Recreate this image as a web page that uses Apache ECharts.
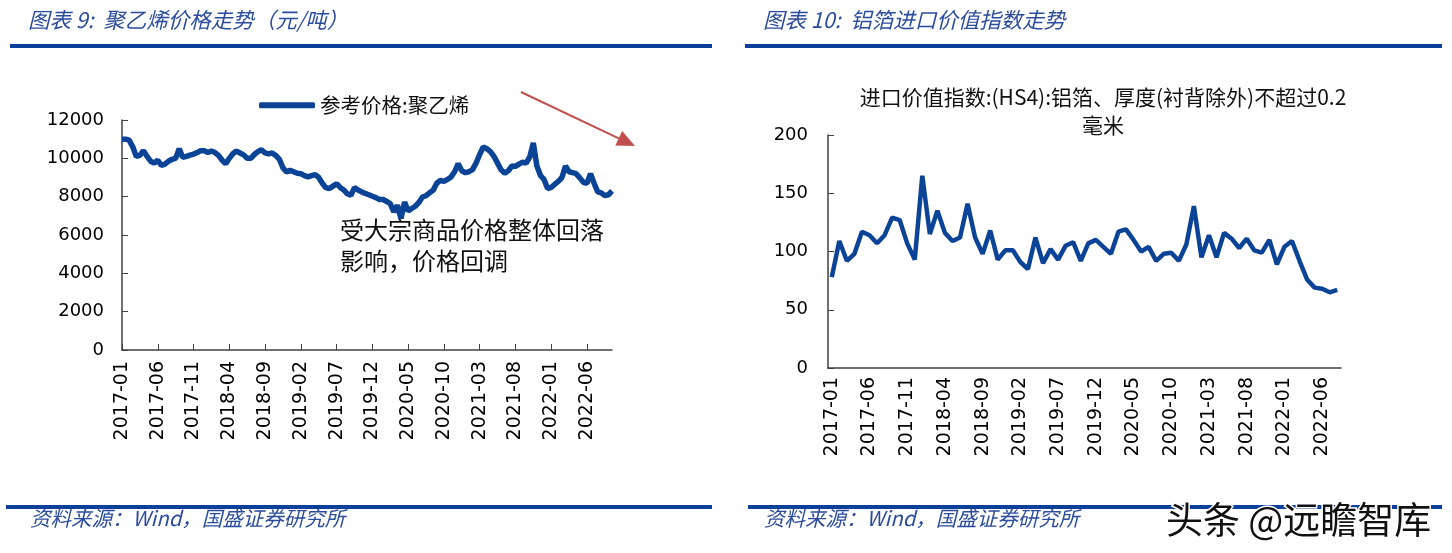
<!DOCTYPE html>
<html>
<head>
<meta charset="utf-8">
<script src="https://cdn.jsdelivr.net/npm/echarts@6/dist/echarts.min.js"></script>
<style>
html,body{margin:0;padding:0;background:#fff;}
#c{width:1452px;height:553px;}
</style>
</head>
<body>
<div id="c"></div>
<script>
// ---- Left chart: 聚乙烯 price (semi-monthly samples, 2017-01 .. 2022-09) ----
const peStartYear = 2017;
const peValues = [
  11000, 11000, 10950, 10600, 10100, 10150, 10400, 10100, 9850, 9750,
  9900, 9630, 9700, 9850, 9950, 10000, 10500, 10050, 10100, 10170,
  10220, 10300, 10400, 10400, 10300, 10380, 10300, 10150, 9900, 9720,
  10000, 10240, 10380, 10280, 10180, 10000, 10000, 10200, 10350, 10450,
  10280, 10230, 10280, 10150, 9950, 9500, 9290, 9380, 9300, 9220,
  9200, 9100, 9030, 9100, 9150, 9000, 8700, 8470, 8420, 8550,
  8680, 8480, 8350, 8150, 8070, 8470, 8350, 8250, 8170, 8100,
  8020, 7950, 7850, 7850, 7750, 7640, 7200, 7550, 6860, 7720,
  7250, 7380, 7500, 7700, 7980, 8050, 8200, 8330, 8700, 8850,
  8800, 8900, 9030, 9300, 9720, 9350, 9250, 9300, 9410, 9750,
  10200, 10590, 10500, 10350, 10100, 9750, 9400, 9220, 9350, 9600,
  9580, 9700, 9800, 9750, 10070, 10800, 9600, 9100, 8900, 8420,
  8480, 8650, 8800, 9000, 9600, 9300, 9250, 9200, 8980, 8750,
  8700, 9200, 8700, 8250, 8200, 8050, 8100, 8300
];
const peDates = [];
for (let k = 0; k < peValues.length; k++) {
  const m = Math.floor(k / 2);
  const y = peStartYear + Math.floor(m / 12);
  const mm = String(m % 12 + 1).padStart(2, '0');
  peDates.push(k % 2 === 0 ? y + '-' + mm : y + '-' + mm + '-16');
}
const peYTicks = [0, 2000, 4000, 6000, 8000, 10000, 12000];

// ---- Right chart: 铝箔 import value index (monthly, 2017-01 .. 2022-08) ----
const alValues = [
  78, 109, 92, 98, 117, 114, 107, 114, 129, 127,
  107, 93, 165, 115, 135, 116, 109, 112, 141, 112,
  98, 118, 93, 101, 101, 91, 85, 112, 90, 102,
  93, 105, 108, 92, 107, 110, 104, 98, 117, 119,
  110, 100, 104, 92, 98, 99, 92, 106, 139, 95,
  114, 95, 116, 111, 103, 111, 101, 99, 110, 89,
  104, 109, 92, 76, 69, 68, 65, 67
];
const alMonths = [];
for (let i = 0; i < alValues.length; i++) {
  const y = 2017 + Math.floor(i / 12);
  alMonths.push(y + '-' + String(i % 12 + 1).padStart(2, '0'));
}
const alYTicks = [0, 50, 100, 150, 200];

const leftTitle = '图表 9:  聚乙烯价格走势（元/吨）';
const rightTitle = '图表 10:  铝箔进口价值指数走势';
const sourceText = '资料来源：Wind，国盛证券研究所';
const peLegend = '参考价格:聚乙烯';
const peNote = ['受大宗商品价格整体回落', '影响，价格回调'];
const alTitle = ['进口价值指数:(HS4):铝箔、厚度(衬背除外)不超过0.2', '毫米'];
const watermark = '头条 @远瞻智库';

const BLUE = '#0b4497';
const AXIS = '#404040';
const CJK = "'Noto Sans CJK SC', sans-serif";
const NUM = "'DejaVu Sans', sans-serif";

// arrow geometry helper (annotation arrow, decorative)
const arrowFrom = [521, 92], arrowTip = [635, 146];
const adx = arrowTip[0] - arrowFrom[0], ady = arrowTip[1] - arrowFrom[1];
const alen = Math.sqrt(adx * adx + ady * ady);
const ux = adx / alen, uy = ady / alen;
const headLen = 18, headHalf = 8;
const bx = arrowTip[0] - ux * headLen, by = arrowTip[1] - uy * headLen;
const headPts = [arrowTip, [bx - uy * headHalf, by + ux * headHalf], [bx + uy * headHalf, by - ux * headHalf]];

const chart = echarts.init(document.getElementById('c'), null, {renderer: 'canvas'});

chart.setOption({
  animation: false,
  backgroundColor: '#fff',
  legend: {
    data: [peLegend],
    left: 254, top: 90,
    itemWidth: 56, itemHeight: 6, icon: 'roundRect',
    textStyle: {fontSize: 20.5, fontFamily: CJK, color: '#111'}
  },
  grid: [
    {left: 122, top: 120, width: 490, height: 230},
    {left: 828, top: 135, width: 513, height: 233}
  ],
  xAxis: [
    {
      type: 'category', gridIndex: 0, data: peDates, boundaryGap: false,
      axisLine: {lineStyle: {color: AXIS, width: 1.5}},
      axisTick: {inside: true, interval: 9, length: 6, lineStyle: {color: AXIS}},
      axisLabel: {interval: 9, rotate: 90, margin: 11, fontSize: 19, fontFamily: NUM, color: '#000'}
    },
    {
      type: 'category', gridIndex: 1, data: alMonths, boundaryGap: true,
      axisLine: {lineStyle: {color: AXIS, width: 1.5}},
      axisTick: {inside: true, interval: 4, length: 6, lineStyle: {color: AXIS}},
      axisLabel: {interval: 4, rotate: 90, margin: 9, fontSize: 19, fontFamily: NUM, color: '#000'}
    }
  ],
  yAxis: [
    {
      type: 'value', gridIndex: 0, min: peYTicks[0], max: peYTicks[peYTicks.length - 1], interval: 2000,
      splitLine: {show: false},
      axisLine: {show: true, lineStyle: {color: AXIS, width: 1.5}},
      axisTick: {show: true, inside: true, length: 6, lineStyle: {color: AXIS}},
      axisLabel: {margin: 18, fontSize: 18, fontFamily: NUM, color: '#000', formatter: v => String(v)}
    },
    {
      type: 'value', gridIndex: 1, min: alYTicks[0], max: alYTicks[alYTicks.length - 1], interval: 50,
      splitLine: {show: false},
      axisLine: {show: true, lineStyle: {color: AXIS, width: 1.5}},
      axisTick: {show: true, inside: true, length: 6, lineStyle: {color: AXIS}},
      axisLabel: {margin: 20, fontSize: 18, fontFamily: NUM, color: '#000', formatter: v => String(v)}
    }
  ],
  series: [
    {
      name: peLegend, type: 'line', xAxisIndex: 0, yAxisIndex: 0, data: peValues,
      showSymbol: false, symbol: 'none', lineStyle: {color: BLUE, width: 5.5}, itemStyle: {color: BLUE}
    },
    {
      name: 'al', type: 'line', xAxisIndex: 1, yAxisIndex: 1, data: alValues,
      showSymbol: false, symbol: 'none', lineStyle: {color: BLUE, width: 4.5}, itemStyle: {color: BLUE}
    }
  ],
  graphic: [
    {type: 'text', left: 28, top: 9, style: {text: leftTitle, font: 'italic 21.5px ' + CJK, fill: '#2b4c9c'}},
    {type: 'text', left: 763, top: 9, style: {text: rightTitle, font: 'italic 21.5px ' + CJK, fill: '#2b4c9c'}},
    {type: 'rect', shape: {x: 10, y: 44, width: 702, height: 4}, style: {fill: '#0a409a'}},
    {type: 'rect', shape: {x: 745, y: 44, width: 697, height: 4}, style: {fill: '#0a409a'}},
    {type: 'rect', shape: {x: 6, y: 505, width: 706, height: 4}, style: {fill: '#0a409a'}},
    {type: 'rect', shape: {x: 748, y: 505, width: 694, height: 4}, style: {fill: '#0a409a'}},
    {type: 'text', left: 30, top: 508, style: {text: sourceText, font: 'italic 20.5px ' + CJK, fill: '#2b4c9c'}},
    {type: 'text', left: 764, top: 508, style: {text: sourceText, font: 'italic 20.5px ' + CJK, fill: '#2b4c9c'}},
    {type: 'text', left: 340, top: 218, style: {text: peNote[0], font: '24px ' + CJK, fill: '#111'}},
    {type: 'text', left: 340, top: 249, style: {text: peNote[1], font: '24px ' + CJK, fill: '#111'}},
    {type: 'line', shape: {x1: arrowFrom[0], y1: arrowFrom[1], x2: bx, y2: by}, style: {stroke: '#c0504d', lineWidth: 2}},
    {type: 'polygon', shape: {points: headPts}, style: {fill: '#c0504d'}},
    {type: 'text', x: 1103, y: 97, style: {text: alTitle[0], font: '21px ' + CJK, fill: '#111', textAlign: 'center', textVerticalAlign: 'middle'}},
    {type: 'text', x: 1103, y: 125, style: {text: alTitle[1], font: '21px ' + CJK, fill: '#111', textAlign: 'center', textVerticalAlign: 'middle'}},
    {type: 'text', x: 1166, y: 520, z: 100, style: {text: watermark, font: '37px ' + CJK, fill: '#111', stroke: '#fff', lineWidth: 3, textVerticalAlign: 'middle'}}
  ]
});
</script>
</body>
</html>
